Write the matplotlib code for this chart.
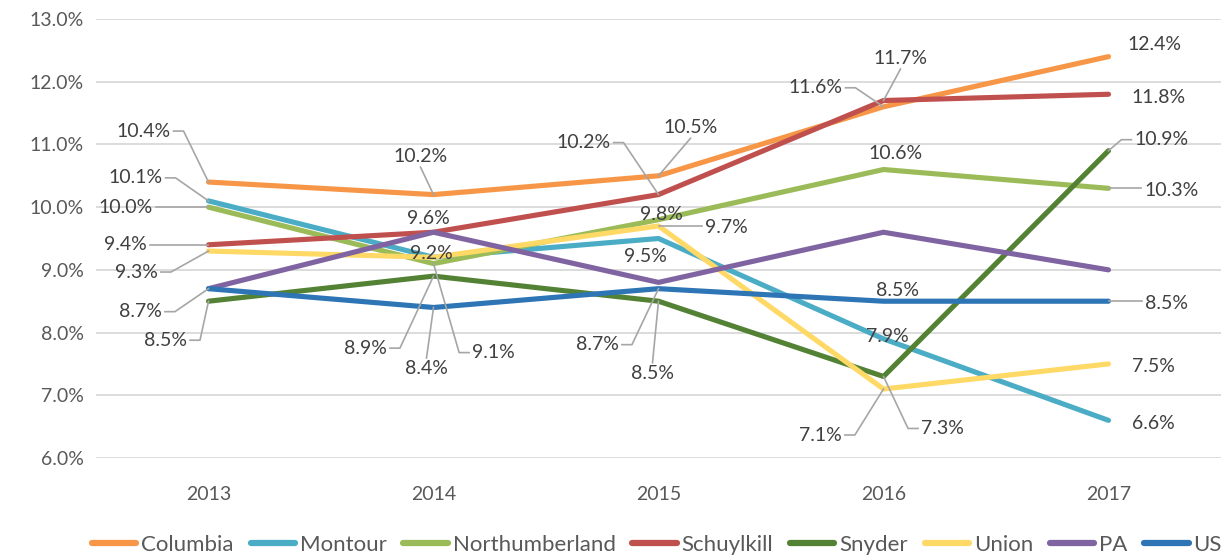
import matplotlib
matplotlib.use("Agg")
import matplotlib.pyplot as plt
from matplotlib.lines import Line2D

# ---- data -------------------------------------------------------------
years = ["2013", "2014", "2015", "2016", "2017"]
columbia = [10.4, 10.2, 10.5, 11.6, 12.4]
montour = [10.1, 9.2, 9.5, 7.9, 6.6]
northumberland = [10.0, 9.1, 9.8, 10.6, 10.3]
schuylkill = [9.4, 9.6, 10.2, 11.7, 11.8]
snyder = [8.5, 8.9, 8.5, 7.3, 10.9]
union = [9.3, 9.2, 9.7, 7.1, 7.5]
pa = [8.7, 9.6, 8.8, 9.6, 9.0]
us = [8.7, 8.4, 8.7, 8.5, 8.5]

series = [
    ("Columbia", columbia, "#F79646"),
    ("Montour", montour, "#4BACC6"),
    ("Northumberland", northumberland, "#9BBB59"),
    ("Schuylkill", schuylkill, "#C0504D"),
    ("Snyder", snyder, "#548235"),
    ("Union", union, "#FFD966"),
    ("PA", pa, "#8064A2"),
    ("US", us, "#2E75B6"),
]

# label placement: (series, year index, dx px, dy px (down), leader style)
label_layout = [
    ("Columbia", 0, -65, -51, "side"),
    ("Montour", 0, -73, -23, "side"),
    ("Northumberland", 0, -83, 0, "side"),
    ("Schuylkill", 0, -83, 0, "side"),
    ("Union", 0, -72, 21, "side"),
    ("US", 0, -68, 23, "side"),
    ("Snyder", 0, -43, 39, "side"),
    ("Columbia", 1, -13, -38, "bottom"),
    ("Schuylkill", 1, -5, -14, None),
    ("Montour", 1, -2, -4, None),
    ("Snyder", 1, -68, 72, "side"),
    ("US", 1, -7, 61, "top"),
    ("Northumberland", 1, 60, 89, "side"),
    ("Schuylkill", 2, -75, -52, "side"),
    ("Columbia", 2, 32, -48, "bottom"),
    ("Northumberland", 2, 3, -5, None),
    ("Union", 2, 68, 2, "side"),
    ("Montour", 2, -13, 18, None),
    ("US", 2, -61, 56, "side"),
    ("Snyder", 2, -6, 72, "top"),
    ("Schuylkill", 3, 17, -42, "bottom"),
    ("Columbia", 3, -68, -19, "side"),
    ("Northumberland", 3, 12, -16, None),
    ("US", 3, 14, -11, None),
    ("Montour", 3, 4, -2, None),
    ("Union", 3, -63, 46, "side"),
    ("Snyder", 3, 59, 52, "side"),
    ("Columbia", 4, 46, -12, None),
    ("Schuylkill", 4, 50, 3, None),
    ("Snyder", 4, 53, -11, "side"),
    ("Northumberland", 4, 63, 2, "side"),
    ("US", 4, 58, 2, "side"),
    ("Union", 4, 45, 3, None),
    ("Montour", 4, 45, 3, None),
]

# ---- figure -----------------------------------------------------------
W, H = 1222, 558
plt.rcParams["font.family"] = ["Lato", "DejaVu Sans"]
fig = plt.figure(figsize=(W / 100, H / 100), dpi=100)
ax = fig.add_axes([96 / W, 1 - 458 / H, 1125 / W, (458 - 19) / H])

x = list(range(len(years)))
values = {}
for name, vals, color in series:
    values[name] = vals
    ax.plot(x, vals, color=color, lw=3.7, solid_capstyle="round",
            solid_joinstyle="round", label=name)

ax.set_xlim(-0.5, len(years) - 0.5)
ax.set_ylim(6.0, 13.0)
yt = [6 + i for i in range(8)]
ax.set_yticks(yt)
ax.set_yticklabels([f"{v:.1f}%" for v in yt])
ax.set_xticks(x)
ax.set_xticklabels(years)
ax.grid(axis="y", color="#D9D9D9", lw=1.3)
ax.set_axisbelow(True)
for s in ax.spines.values():
    s.set_visible(False)
ax.tick_params(axis="both", length=0, labelsize=14, colors="#595959")
ax.tick_params(axis="y", pad=9)
ax.tick_params(axis="x", pad=20)

leg = fig.legend(loc="center", bbox_to_anchor=(657 / W, 1 - 545 / H),
                 ncol=8, frameon=False, fontsize=16, handlelength=2.0,
                 handletextpad=0.22, columnspacing=0.75, borderaxespad=0)
for t in leg.get_texts():
    t.set_color("#595959")
for h in leg.get_lines():
    h.set_linewidth(4.5)
    h.set_solid_capstyle("round")

# ---- data labels --------------------------------------------------------
texts = []
for name, i, dx, dy, style in label_layout:
    v = values[name][i]
    t = ax.annotate(f"{v:.1f}%", xy=(i, v), xytext=(dx, -dy),
                    textcoords="offset pixels", ha="center", va="center",
                    fontsize=14, color="#404040", zorder=5)
    texts.append((t, i, v, style))

fig.canvas.draw()
renderer = fig.canvas.get_renderer()

for t, i, v, style in texts:
    if style is None:
        continue
    px, py = ax.transData.transform((i, v))
    bb = t.get_window_extent(renderer)
    cy = (bb.y0 + bb.y1) / 2
    cx = (bb.x0 + bb.x1) / 2
    if style == "side":
        if cx < px:
            sx = bb.x1 + 3
            ex = sx + 10
        else:
            sx = bb.x0 - 3
            ex = sx - 10
        if abs(cy - py) < 4:
            pts = [(sx, py), (px, py)]
        else:
            pts = [(sx, cy), (ex, cy), (px, py)]
    elif style == "top":
        pts = [(cx, bb.y1 + 2), (px, py)]
    else:
        pts = [(cx, bb.y0 - 2), (px, py)]
    xs = [p[0] / W for p in pts]
    ys = [p[1] / H for p in pts]
    fig.add_artist(Line2D(xs, ys, transform=fig.transFigure,
                          color="#A6A6A6", lw=1.2, zorder=4))

fig.savefig("out.png", dpi=100, facecolor="white")
